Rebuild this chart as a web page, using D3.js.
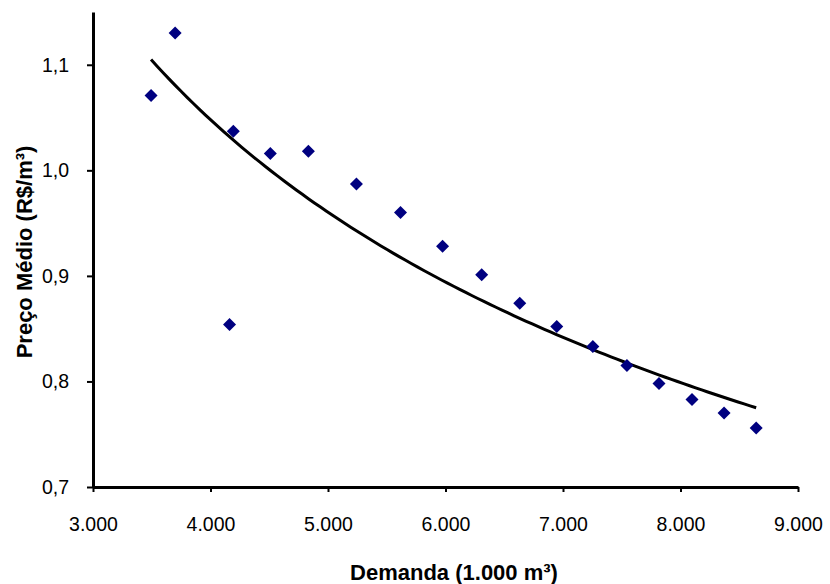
<!DOCTYPE html>
<html>
<head>
<meta charset="utf-8">
<script src="https://cdn.jsdelivr.net/npm/d3@7"></script>
<style>
  body { margin: 0; background: #fff; }
  svg text { font-family: "Liberation Sans", Arial, sans-serif; fill: #000; }
</style>
</head>
<body>
<svg id="chart"></svg>
<script>
// demand (1.000 m³) and average price (R$/m³)
const demanda = [3494, 3699, 4194, 4162, 4509, 4833, 5242, 5617, 5975, 6308, 6632, 6947, 7254, 7544, 7817, 8098, 8371, 8644];
const preco = [1.071, 1.130, 1.037, 0.854, 1.016, 1.018, 0.987, 0.960, 0.928, 0.901, 0.874, 0.852, 0.833, 0.815, 0.798, 0.783, 0.770, 0.756];
const xTicks = [3000, 4000, 5000, 6000, 7000, 8000, 9000];
const yTicks = [0.7, 0.8, 0.9, 1.0, 1.1];
// power trend y = a * x^b, as shown on the chart
const trendA = 26.95;
const trendB = -0.3915;

const width = 830, height = 584;
const margin = { left: 93, right: 32, top: 12, bottom: 97 };

const svg = d3.select("#chart").attr("width", width).attr("height", height);

const x = d3.scaleLinear().domain([3000, 9000]).range([margin.left, width - margin.right]);
const y = d3.scaleLinear().domain([0.7, 1.15]).range([height - margin.bottom, margin.top]);

const fmtX = d3.formatLocale({ decimal: ",", thousands: ".", grouping: [3], currency: ["R$", ""] }).format(",d");
const fmtY = d => d.toFixed(1).replace(".", ",");

// axes
const xAxis = svg.append("g")
  .attr("transform", `translate(0,${y(0.7)})`)
  .call(d3.axisBottom(x).tickValues(xTicks).tickFormat(fmtX).tickSize(5).tickPadding(25).tickSizeOuter(0));
const yAxis = svg.append("g")
  .attr("transform", `translate(${x(3000)},0)`)
  .call(d3.axisLeft(y).tickValues(yTicks).tickFormat(fmtY).tickSize(6).tickPadding(18).tickSizeOuter(0));

[xAxis, yAxis].forEach(g => {
  g.select(".domain").attr("stroke", "#000").attr("stroke-width", 3);
  g.selectAll(".tick line").attr("stroke", "#000").attr("stroke-width", 2);
  g.selectAll("text").attr("font-size", 19.5).attr("fill", "#000");
});

// trend line over the data range
const xMin = d3.min(demanda), xMax = d3.max(demanda);
const trend = d3.range(0, 101).map(i => xMin + (xMax - xMin) * i / 100);

svg.append("path")
  .datum(trend)
  .attr("fill", "none")
  .attr("stroke", "#000")
  .attr("stroke-width", 3)
  .attr("d", d3.line().x(d => x(d)).y(d => y(trendA * Math.pow(d, trendB))));

// points
svg.selectAll(".pt")
  .data(demanda)
  .enter()
  .append("path")
  .attr("class", "pt")
  .attr("transform", (d, i) => `translate(${x(d)},${y(preco[i])})`)
  .attr("d", "M0,-6.5L6.5,0L0,6.5L-6.5,0Z")
  .attr("fill", "#000080");

// axis titles
svg.append("text")
  .attr("x", 454)
  .attr("y", 580)
  .attr("text-anchor", "middle")
  .attr("font-size", 22)
  .attr("font-weight", "bold")
  .text("Demanda (1.000 m³)");

svg.append("text")
  .attr("transform", "translate(32,252) rotate(-90)")
  .attr("text-anchor", "middle")
  .attr("font-size", 22)
  .attr("font-weight", "bold")
  .text("Preço Médio (R$/m³)");
</script>
</body>
</html>
